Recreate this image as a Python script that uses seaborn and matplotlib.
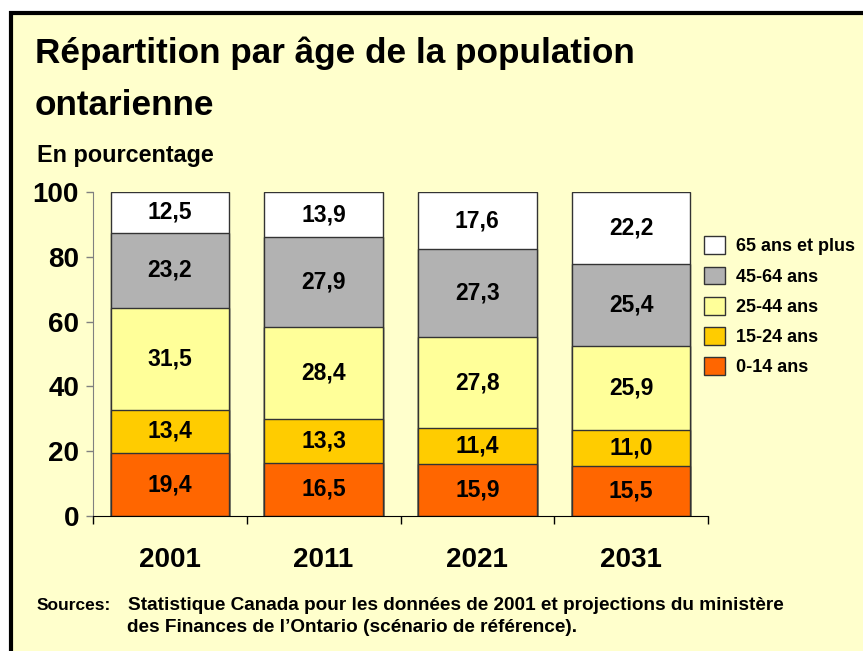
import numpy as np
import pandas as pd
import matplotlib.pyplot as plt
import seaborn as sns
from matplotlib.patches import Patch, Rectangle

sns.set_style("white")
plt.rcParams['font.family'] = ['Liberation Sans', 'DejaVu Sans']
plt.rcParams['font.weight'] = 'bold'
plt.rcParams['text.color'] = 'black'
plt.rcParams['xtick.color'] = 'black'
plt.rcParams['ytick.color'] = 'black'

# data
years = ['2001', '2011', '2021', '2031']
groups = ['0-14 ans', '15-24 ans', '25-44 ans', '45-64 ans', '65 ans et plus']
age_0_14 = [19.4, 16.5, 15.9, 15.5]
age_15_24 = [13.4, 13.3, 11.4, 11.0]
age_25_44 = [31.5, 28.4, 27.8, 25.9]
age_45_64 = [23.2, 27.9, 27.3, 25.4]
age_65_plus = [12.5, 13.9, 17.6, 22.2]
colors = ['#FF6600', '#FFCC00', '#FFFF99', '#B2B2B2', '#FFFFFF']

values = [age_0_14, age_15_24, age_25_44, age_45_64, age_65_plus]
df = pd.DataFrame({g: v for g, v in zip(groups, values)}, index=years)
cum = df.cumsum(axis=1)
bg = '#FFFFCC'

fig = plt.figure(figsize=(8.63, 6.51), dpi=100)
fig.patch.set_facecolor('white')
fig.patches.append(Rectangle((11 / 863, -0.1), 1.2, 1 - 13 / 651 + 0.1,
                             transform=fig.transFigure, facecolor=bg,
                             edgecolor='black', linewidth=3, zorder=-10))

ax = fig.add_axes([93 / 863, 1 - 516 / 651, 615 / 863, 324 / 651])
ax.set_facecolor('none')

# draw stacked bars from the top layer down so each lower layer overlays
for g, c in zip(groups[::-1], colors[::-1]):
    sns.barplot(x=years, y=cum[g].values, color=c, edgecolor='#333333',
                linewidth=1, width=0.77, saturation=1, ax=ax)

for i, yr in enumerate(years):
    bottom = 0
    for g in groups:
        v = df.loc[yr, g]
        ax.text(i, bottom + v / 2, f"{v:.1f}".replace('.', ','), ha='center',
                va='center', fontsize=16.5, fontweight='bold')
        bottom += v

ax.set_ylim(0, 100)
ax.set_xlim(-0.5, 3.5)
ax.set_yticks([0, 20, 40, 60, 80, 100])
ax.tick_params(axis='y', direction='out', length=5, width=1, color='#808080',
               labelsize=20, pad=5, left=True)
ax.tick_params(axis='x', which='major', length=0, labelsize=20, pad=22)
ax.set_xticks([-0.5, 0.5, 1.5, 2.5, 3.5], minor=True)
ax.tick_params(axis='x', which='minor', direction='out', length=6, width=1,
               color='black', bottom=True)
for lab in ax.get_xticklabels() + ax.get_yticklabels():
    lab.set_fontweight('bold')
ax.set_xlabel('')
ax.set_ylabel('')
for s in ['top', 'right']:
    ax.spines[s].set_visible(False)
ax.spines['left'].set_color('#808080')
ax.spines['bottom'].set_color('black')

handles = [Patch(facecolor=c, edgecolor='#333333', label=g)
           for g, c in zip(groups[::-1], colors[::-1])]
fig.legend(handles=handles, loc='upper left', bbox_to_anchor=(688 / 863, 1 - 220 / 651),
           frameon=False, prop={'weight': 'bold', 'size': 13}, handlelength=1.15,
           handleheight=1.15, labelspacing=0.62, handletextpad=0.6)

fig.text(35 / 863, 1 - 63 / 651, "Répartition par âge de la population",
         fontsize=25.3, fontweight='bold', va='baseline', ha='left')
fig.text(35 / 863, 1 - 115 / 651, "ontarienne",
         fontsize=25.3, fontweight='bold', va='baseline', ha='left')
fig.text(37 / 863, 1 - 162 / 651, "En pourcentage", fontsize=16.8,
         fontweight='bold', va='baseline', ha='left')
fig.text(37 / 863, 1 - 610 / 651, "Sources:", fontsize=12.5,
         fontweight='bold', va='baseline', ha='left')
fig.text(128 / 863, 1 - 610 / 651,
         "Statistique Canada pour les données de 2001 et projections du ministère",
         fontsize=13.7, fontweight='bold', va='baseline', ha='left')
fig.text(127 / 863, 1 - 632 / 651,
         "des Finances de l\u2019Ontario (scénario de référence).",
         fontsize=13.7, fontweight='bold', va='baseline', ha='left')

fig.savefig('out.png', dpi=100)
